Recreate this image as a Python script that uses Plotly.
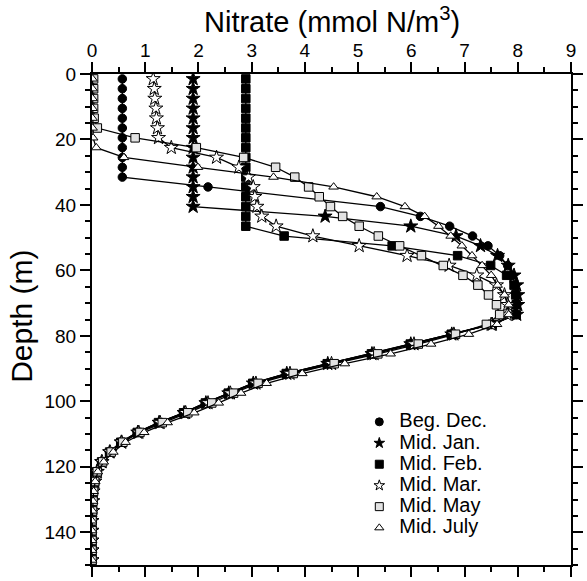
import plotly.graph_objects as go

# Depth levels (m)
depth = [1.5, 4.5, 7.5, 10.5, 13.5, 16.5, 19.5, 22.5, 25.5, 28.5,
         31.5, 34.5, 37.5, 40.5, 43.5, 46.5, 49.5, 52.5, 55.5, 58.5,
         61.5, 64.5, 67.5, 70.5, 73.5, 76.5, 79.5, 82.5, 85.5, 88.5,
         91.5, 94.5, 97.5, 100.5, 103.5, 106.5, 109.5, 112.5, 115.5, 118.5,
         121.5, 124.5, 127.5, 130.5, 133.5, 136.5, 139.5, 142.5, 145.5, 148.5]

# Nitrate (mmol N/m3); None = no sample at that level
dec = [0.57, 0.57, 0.57, 0.57, 0.57, 0.57, 0.57, 0.57, 0.57, 0.57,
       0.57, 2.18, None, 5.42, 6.17, 6.72, 7.15, 7.44, 7.66, 7.81,
       7.90, 7.95, 7.97, 7.98, 7.97, 7.50, 6.74, 5.98, 5.25, 4.42,
       3.65, 3.02, 2.56, 2.13, 1.72, 1.25, 0.85, 0.54, 0.33, 0.18,
       0.09, 0.05, 0.02, 0.01, 0.01, 0.0, 0.0, 0.0, 0.0, 0.0]

jan = [1.90, 1.90, 1.90, 1.90, 1.90, 1.90, 1.90, 1.90, 1.90, 1.90,
       1.90, 1.90, 1.90, 1.90, 4.38, 5.99, 6.84, 7.30, 7.62, 7.82,
       7.93, 7.98, 8.00, 8.00, 7.98, 7.52, 6.76, 5.99, 5.26, 4.43,
       3.66, 3.03, 2.57, 2.14, 1.73, 1.26, 0.86, 0.55, 0.33, 0.18,
       0.09, 0.05, 0.02, 0.01, 0.01, 0.0, 0.0, 0.0, 0.0, 0.0]

feb = [2.89, 2.89, 2.89, 2.89, 2.89, 2.89, 2.89, 2.89, 2.89, 2.89,
       2.89, 2.89, 2.89, 2.89, 2.89, 2.89, 3.61, 5.64, 6.87, 7.49,
       7.79, 7.93, 7.96, 7.97, 7.97, 7.52, 6.75, 5.98, 5.25, 4.42,
       3.65, 3.02, 2.56, 2.13, 1.72, 1.25, 0.85, 0.54, 0.33, 0.18,
       0.09, 0.05, 0.02, 0.01, 0.01, 0.0, 0.0, 0.0, 0.0, 0.0]

mar = [1.15, 1.17, 1.18, 1.20, 1.21, 1.23, 1.25, 1.49, 2.34, 2.76,
       2.94, 3.03, 3.06, 3.10, 3.19, 3.46, 4.15, 5.02, 5.92, 6.71,
       7.23, 7.60, 7.75, 7.81, 7.80, 7.50, 6.80, 6.05, 5.30, 4.50,
       3.72, 3.08, 2.60, 2.18, 1.76, 1.28, 0.88, 0.56, 0.34, 0.19,
       0.10, 0.05, 0.02, 0.01, 0.01, 0.0, 0.0, 0.0, 0.0, 0.0]

may = [0.03, 0.03, 0.03, 0.03, 0.04, 0.10, 0.81, 1.96, 2.85, 3.45,
       3.81, 4.07, 4.27, 4.48, 4.71, 5.02, 5.38, 5.78, 6.19, 6.60,
       6.97, 7.25, 7.45, 7.60, 7.66, 7.41, 6.83, 6.13, 5.37, 4.55,
       3.78, 3.12, 2.66, 2.25, 1.80, 1.32, 0.90, 0.58, 0.36, 0.20,
       0.10, 0.05, 0.03, 0.02, 0.01, 0.0, 0.0, 0.0, 0.0, 0.0]

jul = [0.01, 0.01, 0.01, 0.01, 0.01, 0.01, 0.02, 0.08, 0.60, 1.99,
       3.41, 4.54, 5.35, 5.88, 6.25, 6.51, 6.74, 6.95, 7.14, 7.33,
       7.50, 7.62, 7.75, 7.83, 7.83, 7.61, 7.08, 6.37, 5.61, 4.75,
       3.95, 3.28, 2.80, 2.38, 1.92, 1.42, 0.98, 0.63, 0.40, 0.22,
       0.11, 0.06, 0.03, 0.02, 0.01, 0.0, 0.0, 0.0, 0.0, 0.0]

names = ["Beg. Dec.", "Mid. Jan.", "Mid. Feb.", "Mid. Mar.", "Mid. May", "Mid. July"]
series = [dec, jan, feb, mar, may, jul]
symbols = ["circle", "star", "square", "star", "square", "triangle-up"]
fills = ["black", "black", "black", "white", "#e2e2e2", "white"]
sizes = [8.5, 10.5, 8.5, 10.5, 8.5, 8.5]

fig = go.Figure()
for nm, vals, sym, fc, sz in zip(names, series, symbols, fills, sizes):
    fig.add_trace(go.Scatter(
        x=vals, y=depth, mode="lines+markers", showlegend=False, connectgaps=True,
        line=dict(color="black", width=1.3),
        marker=dict(symbol=sym, size=sz, color=fc, line=dict(color="black", width=1)),
    ))
# legend-only entries (marker symbols)
for nm, sym, fc in zip(names, symbols, fills):
    fig.add_trace(go.Scatter(
        x=[None], y=[None], mode="markers",
        name='<span style="font-size:20px">' + nm + '</span>',
        marker=dict(symbol=sym, size=8, color=fc, line=dict(color="black", width=1)),
    ))

axis_common = dict(
    showline=True, linewidth=2, linecolor="black", mirror="ticks",
    ticks="outside", ticklen=10, tickwidth=1.5, tickcolor="black",
    showgrid=False, zeroline=False,
    tickfont=dict(size=19, color="black"),
)
fig.update_xaxes(range=[0, 9], side="top", dtick=1, tick0=0, ticklabelstandoff=-3,
                 minor=dict(dtick=0.5, ticks="outside", ticklen=5, tickwidth=1.5, tickcolor="black"),
                 **axis_common)
fig.update_yaxes(range=[150, 0], dtick=20, tick0=0,
                 minor=dict(dtick=5, ticks="outside", ticklen=5, tickwidth=1.5, tickcolor="black"),
                 **axis_common)

plot_w = 587 - 92 - 4
plot_h = 581 - 74 - 6
fig.update_layout(
    width=587, height=581,
    margin=dict(l=92, r=4, t=74, b=6),
    plot_bgcolor="white", paper_bgcolor="white",
    font=dict(family="Liberation Sans, Arial, sans-serif", color="black"),
    legend=dict(x=(366 - 92) / plot_w, y=1 - (413 - 74) / plot_h, xanchor="left", yanchor="top",
                bgcolor="rgba(0,0,0,0)", font=dict(size=14), tracegroupgap=0,
                itemwidth=30),
    annotations=[
        dict(text="Nitrate (mmol N/m<sup>3</sup>)", x=0.5, y=1 + (74 - 19) / plot_h,
             xref="paper", yref="paper", showarrow=False, xanchor="center", yanchor="middle",
             font=dict(size=29)),
        dict(text="Depth (m)", x=(19 - 92) / plot_w, y=1 - (321 - 74) / plot_h,
             xref="paper", yref="paper", showarrow=False, xanchor="center", yanchor="middle",
             textangle=-90, font=dict(size=30)),
    ],
)

fig.write_html("out.html")
